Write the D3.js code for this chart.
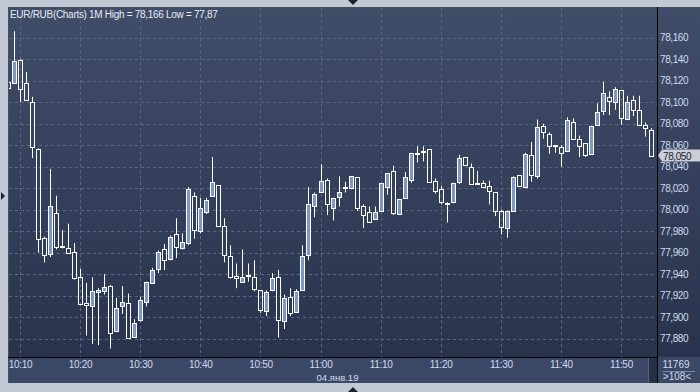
<!DOCTYPE html>
<html>
<head>
<meta charset="utf-8">
<script src="https://cdn.jsdelivr.net/npm/d3@7"></script>
<style>
  body { margin: 0; background: #c2c9d5; }
  text { font-family: "Liberation Sans", Arial, sans-serif; }
</style>
</head>
<body>
<div id="chart"></div>
<script>
// 1-minute EUR/RUB candles, 04.01.2019, starting at 10:08
const startTime = "10:08";
const open  = [78.119,78.118,78.139,78.118,78.100,78.056,77.974,77.959,77.997,77.966,77.964,77.961,77.937,77.913,77.910,77.923,77.924,77.929,77.887,77.910,
               77.913,77.882,77.897,77.914,77.932,77.945,77.963,77.954,77.977,77.964,77.969,78.013,77.980,77.998,78.013,78.023,77.985,77.957,77.938,77.933,
               77.938,77.937,77.925,77.906,77.925,77.937,77.896,77.919,77.905,77.925,77.958,78.003,78.016,78.028,78.002,78.012,78.020,78.020,78.030,78.003,
               77.998,77.991,77.999,78.021,78.036,77.996,78.011,78.028,78.052,78.054,78.056,78.027,78.019,78.006,78.007,78.026,78.049,78.040,78.025,78.025,
               78.022,78.016,77.999,77.983,77.999,78.032,78.021,78.051,78.031,78.078,78.070,78.060,78.058,78.055,78.082,78.066,78.062,78.052,78.079,78.092,
               78.105,78.100,78.111,78.084,78.102,78.093,78.079,78.074];
const high  = [78.120,78.166,78.140,78.128,78.105,78.057,77.975,78.038,78.013,77.981,77.987,77.969,77.945,77.932,77.937,77.927,77.940,77.930,77.918,77.929,
               77.922,77.898,77.919,77.933,77.946,77.962,77.968,77.976,77.992,77.978,78.021,78.016,78.011,78.011,78.049,78.023,77.992,77.967,77.950,77.963,
               77.950,77.953,77.925,77.925,77.941,77.944,77.921,77.927,77.926,77.967,78.021,78.016,78.042,78.029,78.011,78.031,78.026,78.031,78.030,78.005,
               78.003,78.003,78.025,78.034,78.041,78.010,78.035,78.053,78.059,78.059,78.056,78.029,78.022,78.007,78.025,78.051,78.049,78.043,78.036,78.027,
               78.027,78.016,78.000,77.999,78.031,78.032,78.053,78.063,78.084,78.080,78.072,78.060,78.060,78.086,78.085,78.069,78.062,78.078,78.099,78.119,
               78.110,78.114,78.111,78.106,78.106,78.106,78.081,78.076];
const low   = [78.112,78.117,78.100,78.101,78.048,77.960,77.951,77.956,77.963,77.964,77.959,77.935,77.911,77.883,77.875,77.874,77.921,77.871,77.886,77.903,
               77.880,77.881,77.896,77.910,77.931,77.941,77.944,77.953,77.955,77.963,77.967,77.973,77.978,77.996,78.013,77.984,77.951,77.936,77.927,77.933,
               77.933,77.924,77.904,77.901,77.924,77.881,77.889,77.901,77.904,77.925,77.953,77.993,78.016,77.995,77.990,78.003,78.016,78.019,77.999,77.983,
               77.989,77.991,77.998,78.014,77.995,77.995,78.011,78.025,78.044,78.045,78.025,78.015,78.005,77.988,78.006,78.024,78.041,78.023,78.024,78.021,
               78.005,77.994,77.977,77.974,77.998,78.021,78.020,78.026,78.029,78.066,78.052,78.053,78.040,78.055,78.065,78.049,78.049,78.051,78.078,78.088,
               78.088,78.093,78.079,78.084,78.087,78.079,78.068,78.049];
const close = [78.113,78.138,78.112,78.102,78.058,77.973,77.958,78.003,77.965,77.965,77.960,77.936,77.912,77.911,77.924,77.925,77.928,77.885,77.909,77.914,
               77.881,77.895,77.916,77.933,77.944,77.961,77.953,77.975,77.965,77.970,78.019,77.981,78.002,78.009,78.026,77.985,77.958,77.937,77.936,77.937,
               77.939,77.926,77.907,77.923,77.936,77.897,77.918,77.904,77.924,77.957,78.005,78.015,78.027,78.005,78.011,78.016,78.021,78.031,78.002,77.995,
               77.989,77.998,78.025,78.034,77.997,78.010,78.030,78.053,78.053,78.055,78.026,78.017,78.007,78.006,78.025,78.048,78.042,78.024,78.024,78.021,
               78.017,77.999,77.984,77.999,78.030,78.022,78.052,78.032,78.077,78.072,78.059,78.059,78.053,78.083,78.066,78.059,78.051,78.078,78.091,78.109,
               78.101,78.112,78.085,78.100,78.093,78.079,78.076,78.050];
const priceTicks = [77.88,77.90,77.92,77.94,77.96,77.98,78.00,78.02,78.04,78.06,78.08,78.10,78.12,78.14,78.16];
const title = "EUR/RUB(Charts) 1M  High = 78,166 Low  = 77,87";
const dateLabel = "04.янв.19";
const barCount = "11769";
const barsShown = ">108<";

const W = 700, H = 392;
const plot = { left: 9, top: 8, right: 657, bottom: 357 };

const parseT = d3.timeParse("%Y-%m-%d %H:%M");
const t0 = parseT("2019-01-04 " + startTime);
const candles = open.map((o, i) => ({
  t: d3.timeMinute.offset(t0, i), o: o, h: high[i], l: low[i], c: close[i]
}));

const x = d3.scaleTime()
  .domain([parseT("2019-01-04 10:10"), parseT("2019-01-04 11:50")])
  .range([20, 621]);
const y = d3.scaleLinear()
  .domain([77.88, 78.16])
  .range([338.7, 37.7]);

const fmt = v => d3.format(".3f")(v).replace(".", ",");

const svg = d3.select("#chart").append("svg")
  .attr("width", W).attr("height", H);

const defs = svg.append("defs");
const grad = defs.append("linearGradient").attr("id", "bg")
  .attr("x1", 0).attr("y1", 0).attr("x2", 0).attr("y2", 1);
grad.append("stop").attr("offset", "0%").attr("stop-color", "#404d69");
grad.append("stop").attr("offset", "100%").attr("stop-color", "#29334e");
defs.append("clipPath").attr("id", "clip").append("rect")
  .attr("x", plot.left).attr("y", plot.top)
  .attr("width", plot.right - plot.left).attr("height", plot.bottom - plot.top);

// frame
svg.append("rect").attr("width", W).attr("height", H).attr("fill", "#c2c9d5");
svg.append("rect").attr("x", 8).attr("y", 7).attr("width", W - 8).attr("height", 350)
  .attr("fill", "url(#bg)");
svg.append("rect").attr("x", 8).attr("y", 357).attr("width", W - 8).attr("height", 26)
  .attr("fill", "#3b4865");
svg.append("path").attr("d", "M8.5,383 V7.5 H700")
  .attr("fill", "none").attr("stroke", "#48505e");

// grid
const grid = svg.append("g").attr("stroke", "#5a6684").attr("stroke-dasharray", "3,3");
grid.selectAll("line.h").data(priceTicks).join("line")
  .attr("x1", plot.left).attr("x2", plot.right)
  .attr("y1", d => Math.round(y(d)) + 0.5).attr("y2", d => Math.round(y(d)) + 0.5);
grid.selectAll("line.v").data(x.ticks(d3.timeMinute.every(10))).join("line")
  .attr("y1", plot.top).attr("y2", plot.bottom)
  .attr("x1", d => Math.round(x(d)) + 0.5).attr("x2", d => Math.round(x(d)) + 0.5);

// candles
const cg = svg.append("g").attr("clip-path", "url(#clip)");
const bar = cg.selectAll("g.c").data(candles).join("g").attr("class", "c");
const cx = d => Math.round(x(d.t));
const bTop = d => Math.round(y(Math.max(d.o, d.c)));
const bBot = d => Math.max(Math.round(y(Math.min(d.o, d.c))), bTop(d) + 1);
bar.append("line")
  .attr("x1", d => cx(d) + 0.5).attr("x2", d => cx(d) + 0.5)
  .attr("y1", d => y(d.h)).attr("y2", d => bTop(d))
  .attr("stroke", "#fff");
bar.append("line")
  .attr("x1", d => cx(d) + 0.5).attr("x2", d => cx(d) + 0.5)
  .attr("y1", d => bBot(d)).attr("y2", d => y(d.l))
  .attr("stroke", "#fff");
bar.append("rect")
  .attr("x", d => cx(d) - 1.5).attr("width", 4)
  .attr("y", d => bTop(d) + 0.5).attr("height", d => bBot(d) - bTop(d))
  .attr("fill", d => d.c > d.o ? "#7f97c4" : "none")
  .attr("stroke", "#fff");

// separators
svg.append("line").attr("x1", 657.5).attr("x2", 657.5).attr("y1", 7).attr("y2", 383)
  .attr("stroke", "#000");
svg.append("line").attr("x1", 8).attr("x2", 657).attr("y1", 357.5).attr("y2", 357.5)
  .attr("stroke", "#000");

// price axis
const yAxis = svg.append("g").attr("transform", "translate(658,0)")
  .call(d3.axisRight(y).tickValues(priceTicks).tickSize(0).tickPadding(2).tickFormat(fmt));
yAxis.select(".domain").remove();
yAxis.selectAll("text").attr("fill", "#cfdbef").style("font-size", "10px")
  .style("letter-spacing", "-0.4px").attr("font-family", null);

// last price marker
const last = candles[candles.length - 1];
const ly = Math.round(y(last.c)) - 0.5;
svg.append("path")
  .attr("d", `M658,${ly} L662,${ly - 6} H700 V${ly + 6} H662 Z`)
  .attr("fill", "#c9ced7");
svg.append("text").attr("x", 663).attr("y", ly + 4)
  .attr("fill", "#1b2438").style("font-size", "10px").style("letter-spacing", "-0.4px")
  .text(fmt(last.c));

// time axis
const xAxis = svg.append("g").attr("transform", "translate(0,357)")
  .call(d3.axisBottom(x).ticks(d3.timeMinute.every(10)).tickSize(0).tickPadding(4)
    .tickFormat(d3.timeFormat("%H:%M")));
xAxis.select(".domain").remove();
xAxis.selectAll("text").attr("fill", "#cfdbef").style("font-size", "10px")
  .style("letter-spacing", "-0.3px").attr("font-family", null);
svg.append("text").attr("x", x(parseT("2019-01-04 11:00")) + 17).attr("y", 380.5)
  .attr("text-anchor", "middle").attr("fill", "#cfdbef").style("font-size", "9.5px")
  .text(dateLabel);

// scroll stub + counters
svg.append("rect").attr("x", 648).attr("y", 358).attr("width", 9).attr("height", 25)
  .attr("fill", "#263047");
svg.append("line").attr("x1", 648.5).attr("x2", 648.5).attr("y1", 358).attr("y2", 383)
  .attr("stroke", "#56627c");
svg.append("text").attr("x", 676).attr("y", 368).attr("text-anchor", "middle")
  .attr("fill", "#cfdbef").style("font-size", "10px").text(barCount);
svg.append("line").attr("x1", 663).attr("x2", 695).attr("y1", 371.5).attr("y2", 371.5)
  .attr("stroke", "#7d8aa3");
svg.append("text").attr("x", 677).attr("y", 380).attr("text-anchor", "middle")
  .attr("fill", "#cfdbef").style("font-size", "10px").text(barsShown);

// title
svg.append("text").attr("x", 10).attr("y", 18)
  .attr("fill", "#e6ecf6").style("font-size", "10px").style("letter-spacing", "-0.3px")
  .text(title);

// window arrows
svg.append("path").attr("d", "M348,0 H358 L353,5 Z").attr("fill", "#1c2230");
svg.append("path").attr("d", "M348,392 H358 L353,387 Z").attr("fill", "#1c2230");
svg.append("path").attr("d", "M1,192 L5,196 L1,200 Z").attr("fill", "#1c2230");
</script>
</body>
</html>
